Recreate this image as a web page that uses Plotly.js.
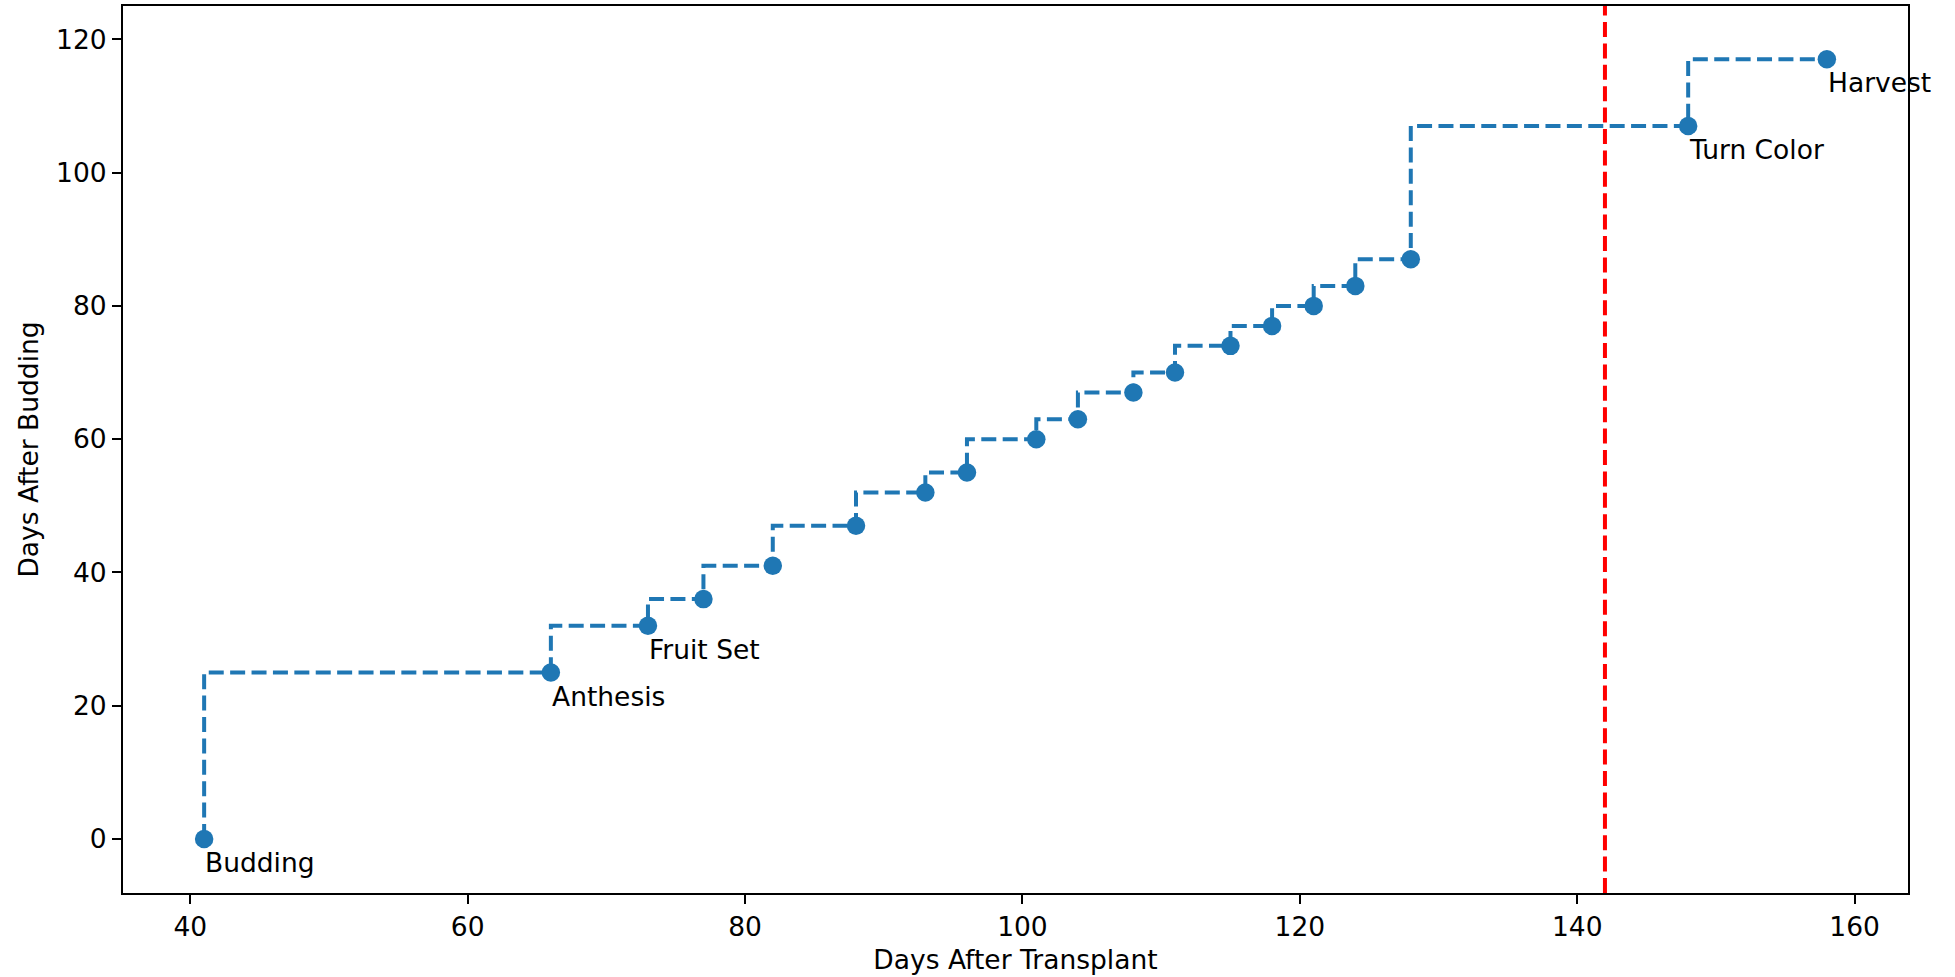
<!DOCTYPE html>
<html>
<head>
<meta charset="utf-8">
<script src="https://cdn.plot.ly/plotly-3.0.1.min.js"></script>
<style>html,body{margin:0;padding:0;background:#fff;}</style>
</head>
<body>
<div id="chart" style="width:1955px;height:977px;"></div>
<script>
const daysAfterTransplant = [41, 66, 73, 77, 82, 88, 93, 96, 101, 104, 108, 111, 115, 118, 121, 124, 128, 148, 158];
const daysAfterBudding   = [0, 25, 32, 36, 41, 47, 52, 55, 60, 63, 67, 70, 74, 77, 80, 83, 87, 107, 117];
const stageNames = ["Budding", "Anthesis", "Fruit Set", "Turn Color", "Harvest"];
const stageX = [41, 66, 73, 148, 158];
const stageY = [0, 25, 32, 107, 117];
const markerLineX = 142;
const labelOffsetY = 5;

const FONT = "DejaVu Sans, sans-serif";
const FS = 26.5;

const trace = {
  x: daysAfterTransplant,
  y: daysAfterBudding,
  mode: "lines+markers",
  line: {shape: "vh", color: "#1f77b4", width: 4, dash: "15px,6.4px"},
  marker: {color: "#1f77b4", size: 18.5},
  hoverinfo: "x+y",
  showlegend: false
};

const annotations = stageNames.map((name, i) => ({
  x: stageX[i],
  y: stageY[i] - labelOffsetY,
  xref: "x", yref: "y",
  text: name,
  showarrow: false,
  xanchor: "left",
  yanchor: "bottom",
  yshift: -7.8,
  xshift: -1,
  font: {family: FONT, size: FS, color: "#000"}
}));

const layout = {
  width: 1955, height: 977,
  margin: {l: 123, r: 47, t: 6, b: 84},
  paper_bgcolor: "#fff",
  plot_bgcolor: "#fff",
  font: {family: FONT, size: FS, color: "#000"},
  xaxis: {
    range: [35.15, 163.85],
    tickvals: [40, 60, 80, 100, 120, 140, 160],
    ticks: "outside", ticklen: 9, tickwidth: 2, tickcolor: "#000",
    showline: true, linecolor: "#000", linewidth: 2, mirror: true,
    showgrid: false, zeroline: false,
    tickfont: {family: FONT, size: FS},
    title: {text: "Days After Transplant", font: {family: FONT, size: FS}, standoff: 10}
  },
  yaxis: {
    range: [-8.1, 125],
    tickvals: [0, 20, 40, 60, 80, 100, 120],
    ticks: "outside", ticklen: 9, tickwidth: 2, tickcolor: "#000",
    showline: true, linecolor: "#000", linewidth: 2, mirror: true,
    showgrid: false, zeroline: false,
    tickfont: {family: FONT, size: FS},
    title: {text: "Days After Budding", font: {family: FONT, size: FS}, standoff: 10}
  },
  shapes: [{
    type: "line", xref: "x", yref: "paper",
    x0: markerLineX, x1: markerLineX, y0: 0, y1: 1,
    line: {color: "#ff0000", width: 4, dash: "15px,6.4px"}
  }],
  annotations: annotations
};

Plotly.newPlot("chart", [trace], layout, {staticPlot: true, displayModeBar: false});
</script>
</body>
</html>
